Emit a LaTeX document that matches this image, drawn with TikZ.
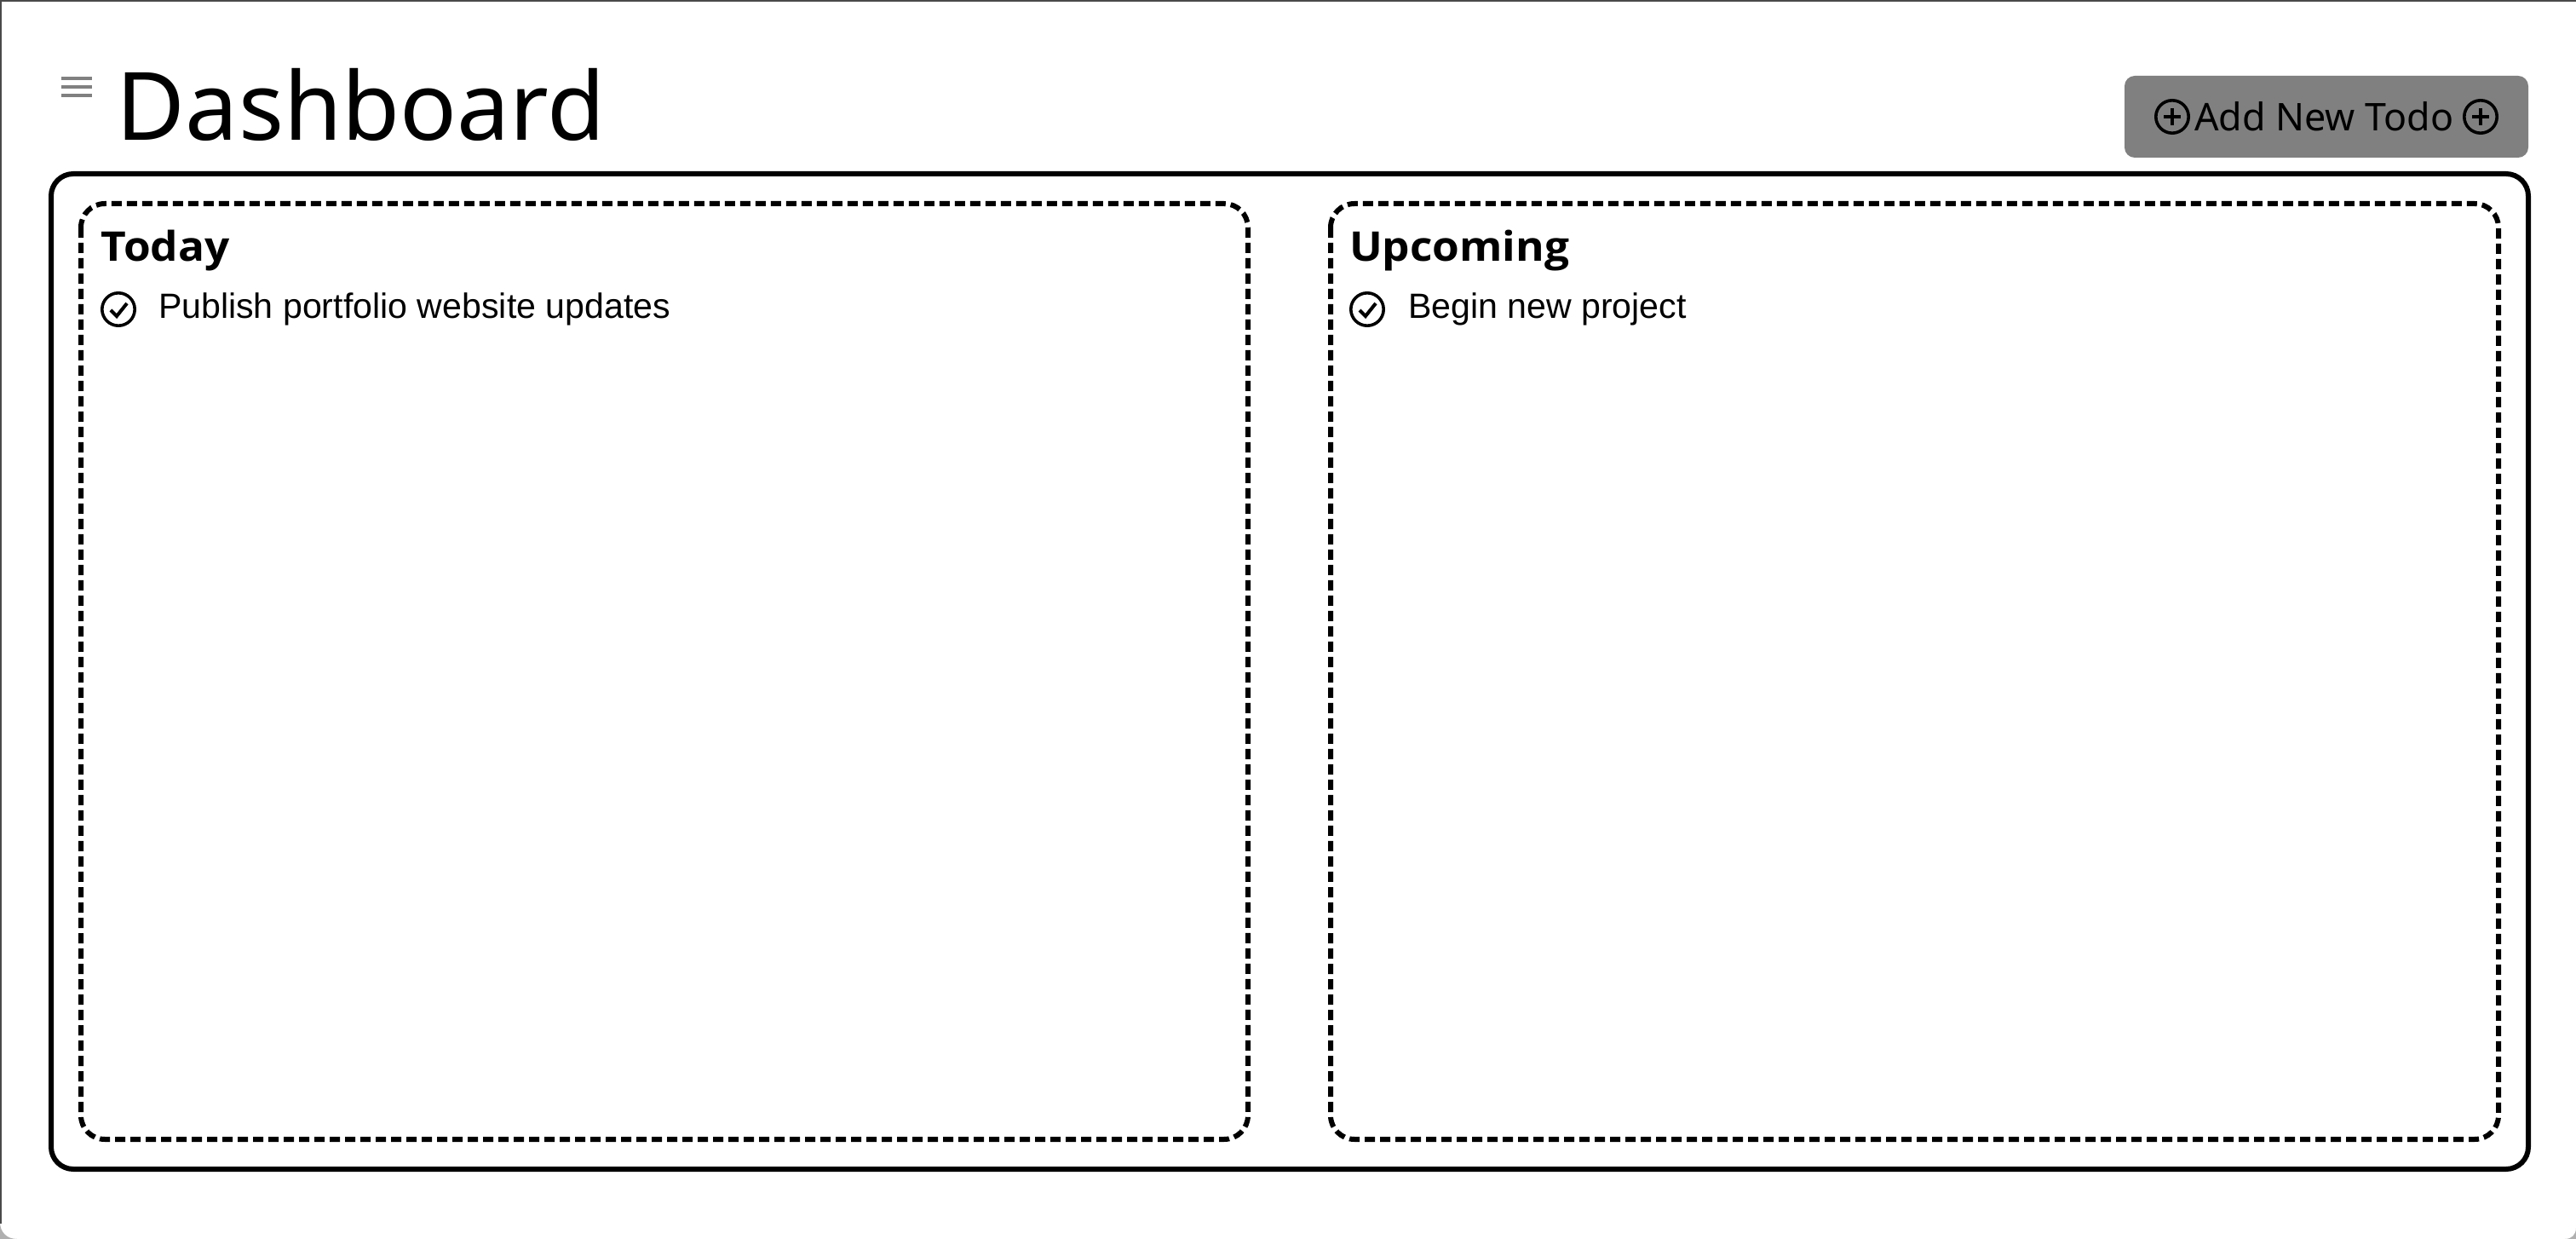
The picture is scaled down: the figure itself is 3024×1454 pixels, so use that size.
\documentclass[tikz,border=0pt]{standalone}
\usepackage{fontspec}
\setmainfont{Liberation Sans}
\newfontfamily\headfont{Noto Sans}
\newfontfamily\boldfont[FakeStretch=1.07]{Open Sans}
\usetikzlibrary{
  calc,
  positioning,
}
\definecolor{btngray}{RGB}{128, 128, 128}
\definecolor{framegray}{RGB}{74, 74, 74}
\definecolor{cornergray}{RGB}{176, 176, 176}
\tikzstyle{outerbox} = [line width=1.5pt, rounded corners=6.5pt]
\tikzstyle{panelbox} = [line width=1.5pt, rounded corners=7pt, dash pattern=on 3pt off 1.5pt]
\tikzstyle{label} = [inner sep=0pt, outer sep=0pt, anchor=base west]
\tikzstyle{roundicon} = [circle, draw, line width=0.9pt, minimum size=9.6pt, inner sep=0pt]

\begin{document}
\begin{tikzpicture}[x=0.25pt, y=-0.25pt]
  \useasboundingbox (0,0) rectangle (3024,1454);
  \fill[white] (0,0) rectangle (3024,1454);
  \fill[cornergray] (0,1454) -- (0,1434) .. controls (0,1446) and (8,1454) .. (20,1454) -- cycle;
  \fill[cornergray] (3024,1454) -- (3024,1441) .. controls (3024,1449) and (3019,1454) .. (3011,1454) -- cycle;
  \draw[framegray, line width=0.45pt] (0.9,0) -- (0.9,1436);
  \fill[framegray] (0,0) rectangle (3024,2);

  \draw[btngray, line width=1pt] (72,92) -- (108,92);
  \draw[btngray, line width=1pt] (72,102) -- (108,102);
  \draw[btngray, line width=1pt] (72,112) -- (108,112);
  \node[label, font=\headfont\fontsize{27.7pt}{30pt}\selectfont] (title) at (137,165) {Dashboard};

  \draw[fill=btngray, draw=none, rounded corners=3pt] (2494,89) rectangle (2968,185);
  \node[roundicon] (plusL) at (2550,137) {};
  \node[roundicon] (plusR) at (2912,137) {};
  \foreach \n in {plusL, plusR} {
    \draw[line width=0.8pt] ($(\n)+(-10,0)$) -- ($(\n)+(10,0)$);
    \draw[line width=0.8pt] ($(\n)+(0,-10)$) -- ($(\n)+(0,10)$);
  }
  \node[label, font=\headfont\fontsize{11.2pt}{13pt}\selectfont] (addtodo) at (2576,154) {Add New Todo};

  \draw[outerbox] (60,204) rectangle (2968,1372);
  \draw[panelbox] (95,239) rectangle (1465,1337);
  \draw[panelbox] (1562,239) rectangle (2933,1337);

  \node[label, font=\boldfont\bfseries\fontsize{12pt}{14pt}\selectfont] (today) at (119,307) {Today};
  \node[label, font=\boldfont\bfseries\fontsize{12pt}{14pt}\selectfont] (upcoming) at (1584,307) {Upcoming};

  \node[roundicon] (checkA) at (139,363) {};
  \node[roundicon] (checkB) at (1605,363) {};
  \foreach \n in {checkA, checkB} {
    \draw[line width=1pt] ($(\n)+(-9,1)$) -- ($(\n)+(-2,8)$) -- ($(\n)+(10,-7)$);
  }
  \node[label, font=\fontsize{10.28pt}{12pt}\selectfont] (taskA) at (186,374) {Publish portfolio website updates};
  \node[label, font=\fontsize{10.28pt}{12pt}\selectfont] (taskB) at (1653,374) {Begin new project};
\end{tikzpicture}
\end{document}
